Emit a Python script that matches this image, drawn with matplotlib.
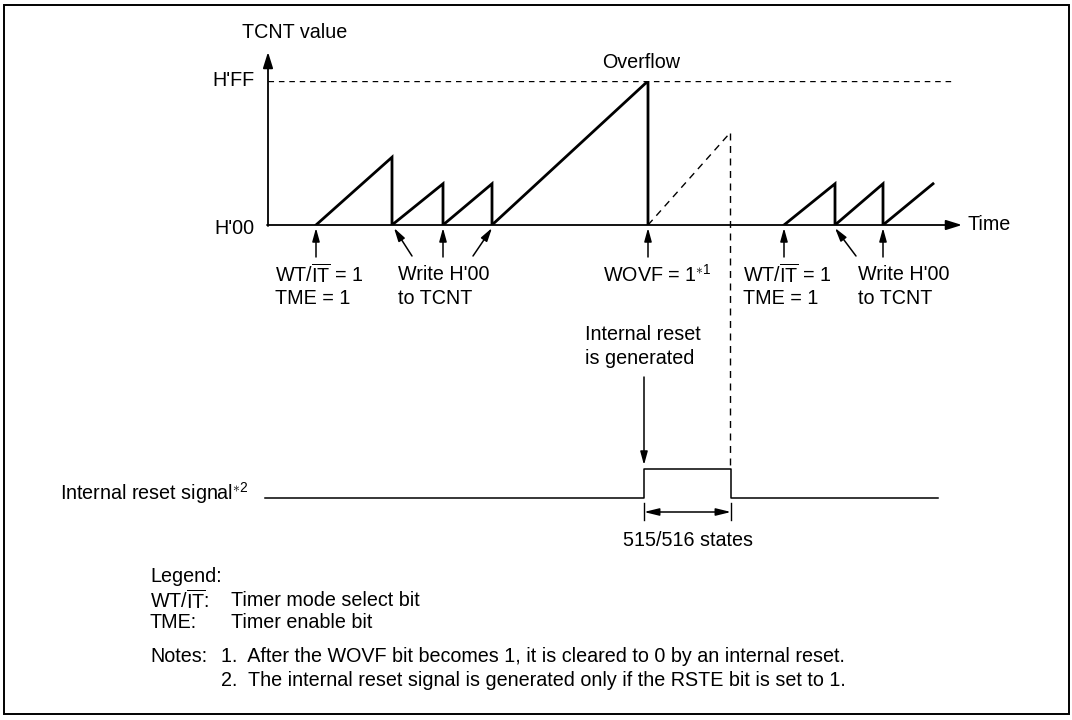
import matplotlib
matplotlib.use("Agg")
import matplotlib.pyplot as plt
from matplotlib.patches import Rectangle

plt.rcParams['font.family'] = ['Liberation Sans', 'DejaVu Sans']
plt.rcParams['mathtext.fontset'] = 'custom'
plt.rcParams['mathtext.rm'] = 'Liberation Sans'
plt.rcParams['mathtext.it'] = 'Liberation Sans:italic'
plt.rcParams['mathtext.bf'] = 'Liberation Sans:bold'

# ---- data (time in diagram units, TCNT counts 0..255) ----
H_FF = 255
saw1_t = [316, 392, 392, 443, 443, 492, 492, 648, 648]
saw1_v = [0, 120, 0, 73, 0, 73, 0, 255, 0]
dash_t = [648, 730]
dash_v = [0, 163]
saw2_t = [784, 835, 835, 883, 883, 933]
saw2_v = [0, 73, 0, 73, 0, 73]
reset_t = [265, 644, 644, 731, 731, 938]
reset_lvl = [0, 0, 1, 1, 0, 0]

up_arrows = [316, 443, 648, 784, 883]
diag_arrows = [(412, 394), (473, 492), (856, 835)]

FS = 14.2

fig = plt.figure(figsize=(10.72, 7.2), dpi=100)
ax = fig.add_axes([0, 0, 1, 1])
ax.set_xlim(0, 1072)
ax.set_ylim(720, 0)
ax.axis('off')

# TCNT axes: count 0 at y=225, 255 at y=81
tc = fig.add_axes([0, (720 - 225) / 720, 1, (225 - 81) / 720])
tc.set_xlim(0, 1072)
tc.set_ylim(0, H_FF)
tc.axis('off')

# border
ax.add_patch(Rectangle((4, 5), 1065, 709, fill=False, lw=1.4, ec='black'))

# axes arrows
ap_axis = dict(arrowstyle='-|>,head_length=0.8,head_width=0.25',
               mutation_scale=12, lw=1.3, color='black', shrinkA=0, shrinkB=0)
ax.annotate('', xy=(268, 52), xytext=(268, 226), arrowprops=ap_axis)
ax.annotate('', xy=(962, 225), xytext=(267, 225), arrowprops=ap_axis)

# H'FF dashed
tc.plot([268, 952], [H_FF, H_FF], color='black', lw=1.0, ls=(0, (4, 3.5)))

# sawtooth
tc.plot(saw1_t, saw1_v, color='black', lw=2.0, solid_joinstyle='miter')
tc.plot(dash_t, dash_v, color='black', lw=1.0, ls=(0, (5, 4)))
tc.plot(saw2_t, saw2_v, color='black', lw=2.0, solid_joinstyle='miter')

# dashed vertical
ax.plot([730, 730], [133, 468], color='black', lw=1.0, ls=(0, (5, 4)))

# labels on axis
ax.text(242, 32, 'TCNT value', fontsize=FS, va='center', ha='left')
ax.text(255, 81, "H'FF", fontsize=FS, va='center', ha='right')
ax.text(255, 228, "H'00", fontsize=FS, va='center', ha='right')
ax.text(967, 225, 'Time', fontsize=FS, va='center', ha='left')
ax.text(641, 62, 'Overflow', fontsize=FS, va='center', ha='center')

# event arrows
ap_small = dict(arrowstyle='-|>,head_length=0.8,head_width=0.22',
                mutation_scale=10, lw=1.1, color='black',
                shrinkA=0, shrinkB=0)
for x in up_arrows:
    ax.annotate('', xy=(x, 228), xytext=(x, 257), arrowprops=ap_small)
for x0, x1 in diag_arrows:
    ax.annotate('', xy=(x1, 228), xytext=(x0, 256), arrowprops=ap_small)

wtit = r'WT/$\overline{\mathrm{IT}}$ = 1'
for x in (275, 743):
    ax.text(x, 275, wtit, fontsize=FS, va='center', ha='left')
    ax.text(x, 298, 'TME = 1', fontsize=FS, va='center', ha='left')
for x in (398, 858):
    ax.text(x, 275, "Write H'00", fontsize=FS, va='center', ha='left')
    ax.text(x, 298, 'to TCNT', fontsize=FS, va='center', ha='left')
ax.text(603, 275, r'WOVF = 1$^{\ast 1}$', fontsize=FS, va='center', ha='left')

# internal reset
ax.text(585, 335, 'Internal reset', fontsize=FS, va='center', ha='left')
ax.text(585, 358, 'is generated', fontsize=FS, va='center', ha='left')
ax.annotate('', xy=(644, 465), xytext=(644, 377), arrowprops=ap_small)

# reset signal
reset_y = [498 - 29 * v for v in reset_lvl]
ax.plot(reset_t, reset_y, color='black', lw=1.1)
ax.text(60, 493, r'Internal reset signal$^{\ast 2}$', fontsize=FS,
        va='center', ha='left')

# dimension
for x in (644, 731):
    ax.plot([x, x], [503, 520], color='black', lw=1.0)
ax.annotate('', xy=(644, 512), xytext=(731, 512),
            arrowprops=dict(arrowstyle='<|-|>,head_length=0.9,head_width=0.22',
                            mutation_scale=10, lw=1.1,
                            color='black', shrinkA=0, shrinkB=0))
ax.text(688, 540, '515/516 states', fontsize=FS, va='center', ha='center')

# legend / notes
ax.text(150, 577, 'Legend:', fontsize=FS, va='center', ha='left')
ax.text(150, 601, r'WT/$\overline{\mathrm{IT}}$:', fontsize=FS, va='center', ha='left')
ax.text(231, 601, 'Timer mode select bit', fontsize=FS, va='center', ha='left')
ax.text(150, 623, 'TME:', fontsize=FS, va='center', ha='left')
ax.text(231, 623, 'Timer enable bit', fontsize=FS, va='center', ha='left')
ax.text(150, 657, 'Notes:', fontsize=FS, va='center', ha='left')
ax.text(221, 657, '1.  After the WOVF bit becomes 1, it is cleared to 0 by an internal reset.',
        fontsize=FS, va='center', ha='left')
ax.text(221, 681, '2.  The internal reset signal is generated only if the RSTE bit is set to 1.',
        fontsize=FS, va='center', ha='left')

fig.savefig('out.png', dpi=100)
